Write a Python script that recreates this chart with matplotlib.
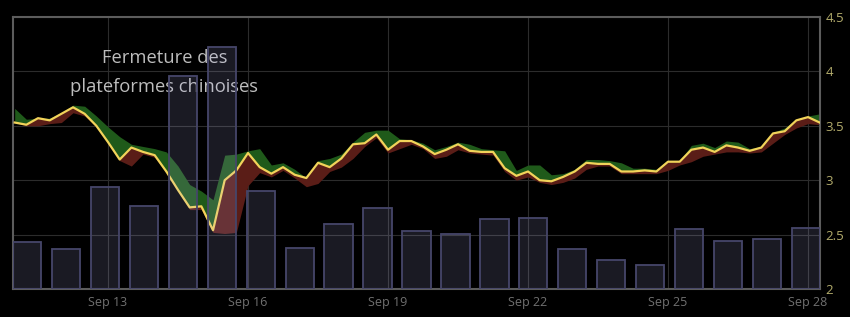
#!/usr/bin/env python3
import numpy as np
import pandas as pd
import matplotlib
matplotlib.use('Agg')
import matplotlib.pyplot as plt
import matplotlib.dates as mdates

# 6-hourly prices
start = '2017-09-11 00:00'
close = [3.53, 3.51, 3.57, 3.55, 3.61, 3.67, 3.61, 3.50, 3.35, 3.19,
         3.30, 3.26, 3.23, 3.08, 2.91, 2.75, 2.76, 2.54, 3.00, 3.09,
         3.25, 3.12, 3.06, 3.12, 3.05, 3.02, 3.16, 3.12, 3.20, 3.33,
         3.34, 3.42, 3.28, 3.36, 3.36, 3.31, 3.24, 3.28, 3.33, 3.27,
         3.26, 3.26, 3.11, 3.04, 3.08, 3.00, 2.99, 3.03, 3.08, 3.16,
         3.15, 3.15, 3.08, 3.08, 3.09, 3.08, 3.17, 3.17, 3.28, 3.30,
         3.26, 3.32, 3.30, 3.27, 3.30, 3.43, 3.45, 3.55, 3.58, 3.53]
high = [3.66, 3.56, 3.57, 3.57, 3.62, 3.69, 3.68, 3.59, 3.49, 3.40,
        3.33, 3.31, 3.29, 3.26, 3.13, 2.96, 2.90, 2.82, 3.23, 3.24,
        3.27, 3.29, 3.14, 3.16, 3.10, 3.02, 3.18, 3.20, 3.24, 3.35,
        3.44, 3.46, 3.46, 3.38, 3.37, 3.34, 3.28, 3.31, 3.35, 3.33,
        3.29, 3.28, 3.27, 3.09, 3.14, 3.14, 3.05, 3.06, 3.10, 3.19,
        3.19, 3.18, 3.16, 3.11, 3.11, 3.10, 3.18, 3.18, 3.32, 3.34,
        3.30, 3.36, 3.35, 3.29, 3.31, 3.44, 3.48, 3.56, 3.59, 3.61]
low = [3.53, 3.50, 3.50, 3.52, 3.53, 3.62, 3.59, 3.49, 3.34, 3.18,
       3.13, 3.24, 3.21, 3.07, 2.90, 2.73, 2.73, 2.52, 2.51, 2.52,
       2.95, 3.07, 3.03, 3.09, 3.02, 2.94, 2.97, 3.08, 3.12, 3.20,
       3.31, 3.39, 3.25, 3.29, 3.33, 3.29, 3.20, 3.22, 3.28, 3.25,
       3.24, 3.23, 3.08, 3.00, 3.03, 2.98, 2.96, 2.98, 3.02, 3.10,
       3.13, 3.13, 3.06, 3.06, 3.06, 3.06, 3.09, 3.14, 3.17, 3.22,
       3.24, 3.26, 3.26, 3.25, 3.26, 3.34, 3.42, 3.48, 3.52, 3.51]

# volume bars (relative units)
volume = [0.43, 0.37, 0.94, 0.76, 1.96, 2.22, 0.90, 0.38, 0.60, 0.74, 0.53,
          0.51, 0.64, 0.65, 0.37, 0.27, 0.22, 0.55, 0.44, 0.46, 0.56]

yticks = [2, 2.5, 3, 3.5, 4, 4.5]
ytick_labels = ['2', '2.5', '3', '3.5', '4', '4.5']
note = 'Fermeture des\nplateformes chinoises'

plt.rcParams['font.family'] = ['Open Sans', 'DejaVu Sans']

times = pd.date_range(start, periods=len(close), freq='6h')
close = np.array(close)
high = np.array(high)
low = np.array(low)

fig = plt.figure(figsize=(8.5, 3.17), dpi=100, facecolor='black')
rect = [13/850, 28/317, 807/850, 272/317]
ax = fig.add_axes(rect)
ax.set_facecolor('black')

ax.fill_between(times, close, high, color='#1f5a1a', lw=0, zorder=2)
ax.fill_between(times, low, close, color='#5a1d17', lw=0, zorder=2)
ax.plot(times, close, color='#f2d35a', lw=1.6, zorder=3)

ax.set_xlim(pd.Timestamp('2017-09-10 23:08'), pd.Timestamp('2017-09-28 06:10'))
ax.set_ylim(2, 4.5)
ax.xaxis.set_major_locator(mdates.DayLocator(bymonthday=[13, 16, 19, 22, 25, 28]))
ax.xaxis.set_major_formatter(mdates.DateFormatter('%b %d'))
ax.yaxis.tick_right()
ax.set_yticks(yticks)
ax.set_yticklabels(ytick_labels)
ax.tick_params(axis='y', length=0, pad=4, labelsize=9.5, labelcolor='#b3ac6c')
ax.tick_params(axis='x', length=0, pad=5, labelsize=9, labelcolor='#707070')
ax.grid(color='#2c2c2c', lw=0.8)
ax.set_axisbelow(True)
for s in ax.spines.values():
    s.set_color('#5c5c5c')
    s.set_linewidth(1.5)

ax.text(pd.Timestamp('2017-09-14 05:00'), 3.99, note, ha='center', va='center',
        color='#bdbdbd', fontsize=13.2, linespacing=1.75, zorder=6)

# volume on its own hidden axes
ax2 = fig.add_axes(rect)
ax2.patch.set_alpha(0)
ax2.bar(np.arange(len(volume)), volume, width=0.73, align='edge',
        facecolor=(0.75, 0.75, 1.0, 0.14), edgecolor='#46466a', lw=1.3, zorder=4)
ax2.set_xlim(0, len(volume) - 1 + 0.73)
ax2.set_ylim(0, 2.5)
ax2.axis('off')

fig.savefig('out.png', dpi=100, facecolor='black')
plt.close()
